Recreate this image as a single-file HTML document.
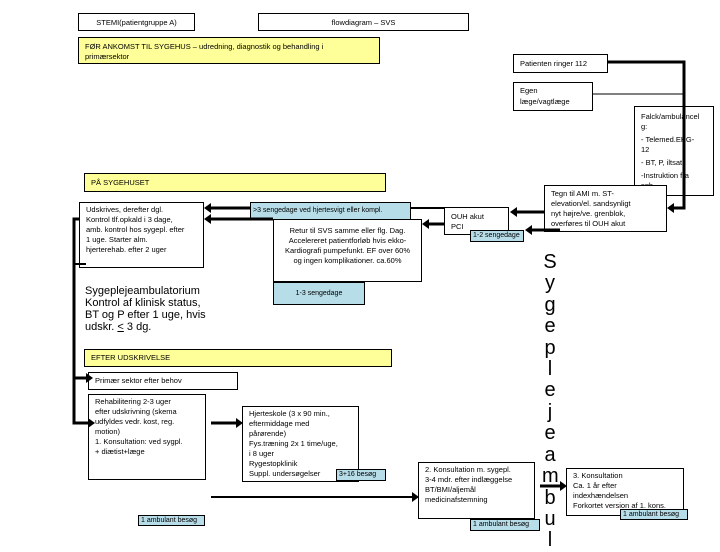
<!DOCTYPE html>
<html><head><meta charset="utf-8"><style>
body{margin:0;width:720px;height:540px;background:#fff;position:relative;overflow:hidden;font-family:"Liberation Sans",sans-serif;}
.b{position:absolute;border:1px solid #000;background:#fff;box-sizing:border-box;font-size:7.5px;line-height:11px;padding:2px 6px;color:#000;}
.y{background:#ffff99;}
.t{background:#b7dde8;padding:0 2px;line-height:10px;white-space:nowrap;font-size:7px;}
.big{position:absolute;left:542px;font-size:20px;width:16px;text-align:center;}
</style></head><body>
<div class="b" style="left:78px;top:13px;width:117px;height:18px;text-align:center;line-height:13px">STEMI(patientgruppe A)</div>
<div class="b" style="left:258px;top:13px;width:211px;height:18px;text-align:center;line-height:13px">flowdiagram – SVS</div>
<div class="b y" style="left:78px;top:37px;width:302px;height:27px;line-height:10px;padding-top:4px">FØR ANKOMST TIL SYGEHUS – udredning, diagnostik og behandling i<br>primærsektor</div>
<div class="b" style="left:513px;top:54px;width:95px;height:19px;line-height:13px">Patienten ringer 112</div>
<div class="b" style="left:513px;top:82px;width:80px;height:29px;line-height:11px">Egen<br>læge/vagtlæge</div>
<div class="b" style="left:634px;top:106px;width:80px;height:90px;line-height:10px;padding-top:5px;white-space:nowrap">Falck/ambulancel<br>g:<div style="margin-top:3px">- Telemed.EKG-</div>12<div style="margin-top:3px">- BT, P, iltsat.</div><div style="margin-top:3px">-Instruktion fra</div>sgh.</div>
<div class="b" style="left:544px;top:185px;width:123px;height:47px;line-height:10px;padding-top:3px">Tegn til AMI m. ST-<br>elevation/el. sandsynligt<br>nyt højre/ve. grenblok,<br>overføres til OUH akut</div>
<div class="b y" style="left:84px;top:173px;width:302px;height:19px;line-height:13px">PÅ SYGEHUSET</div>
<div class="b" style="left:79px;top:202px;width:125px;height:66px;line-height:10px">Udskrives, derefter dgl.<br>Kontrol tlf.opkald i 3 dage,<br>amb. kontrol hos sygepl. efter<br>1 uge. Starter alm.<br>hjerterehab. efter 2 uger</div>
<div class="b t" style="left:250px;top:202px;width:161px;height:18px;line-height:16px">&gt;3 sengedage ved hjertesvigt eller kompl.</div>
<div class="b" style="left:273px;top:219px;width:149px;height:63px;text-align:center;line-height:10px;padding-top:6px">Retur til SVS samme eller flg. Dag.<br>Accelereret patientforløb hvis ekko-<br>Kardiografi pumpefunkt. EF over 60%<br>og ingen komplikationer. ca.60%</div>
<div class="b" style="left:444px;top:207px;width:65px;height:28px;line-height:10px;padding-top:4px">OUH akut<br>PCI</div>
<div class="b t" style="left:470px;top:230px;width:54px;height:12px">1-2 sengedage</div>
<div style="position:absolute;left:85px;top:285px;font-size:11px;line-height:12px">Sygeplejeambulatorium<br>Kontrol af klinisk status,<br>BT og P efter 1 uge, hvis<br>udskr. <u>&lt;</u> 3 dg.</div>
<div class="b t" style="left:273px;top:282px;width:92px;height:23px;line-height:21px;text-align:center">1-3 sengedage</div>
<div class="b y" style="left:84px;top:349px;width:308px;height:18px;line-height:12px">EFTER UDSKRIVELSE</div>
<div class="b" style="left:88px;top:372px;width:150px;height:18px;line-height:12px">Primær sektor efter behov</div>
<div class="b" style="left:88px;top:394px;width:118px;height:86px;line-height:10px">Rehabilitering 2-3 uger<br>efter udskrivning (skema<br>udfyldes vedr. kost, reg.<br>motion)<br>1. Konsultation: ved sygpl.<br>+ diætist+læge</div>
<div class="b" style="left:242px;top:406px;width:117px;height:76px;line-height:10px">Hjerteskole (3 x 90 min.,<br>eftermiddage med<br>pårørende)<br>Fys.træning 2x 1 time/uge,<br>i 8 uger<br>Rygestopklinik<br>Suppl. undersøgelser</div>
<div class="b t" style="left:336px;top:469px;width:50px;height:12px">3+16 besøg</div>
<div class="b t" style="left:138px;top:515px;width:67px;height:11px">1 ambulant besøg</div>
<div class="b" style="left:418px;top:462px;width:117px;height:57px;line-height:10px">2. Konsultation m. sygepl.<br>3-4 mdr. efter indlæggelse<br>BT/BMI/aljemål<br>medicinafstemning</div>
<div class="b t" style="left:470px;top:519px;width:70px;height:12px">1 ambulant besøg</div>
<div class="b" style="left:566px;top:468px;width:118px;height:48px;line-height:10px">3. Konsultation<br>Ca. 1 år efter<br>indexhændelsen<br>Forkortet version af 1. kons.</div>
<div class="b t" style="left:620px;top:509px;width:68px;height:11px">1 ambulant besøg</div>
<div class="big" style="top:251px">S</div><div class="big" style="top:272px">y</div><div class="big" style="top:294px">g</div><div class="big" style="top:315px">e</div><div class="big" style="top:337px">p</div><div class="big" style="top:358px">l</div><div class="big" style="top:379px">e</div><div class="big" style="top:401px">j</div><div class="big" style="top:422px">e</div><div class="big" style="top:444px">a</div><div class="big" style="top:465px">m</div><div class="big" style="top:487px">b</div><div class="big" style="top:508px">u</div><div class="big" style="top:529px">l</div>
<svg width="720" height="540" style="position:absolute;left:0;top:0" fill="#000">
<g stroke="#000" fill="none">
<polyline points="608,62 684,62 684,208 670,208" stroke-width="3"/>
<line x1="593" y1="94" x2="684" y2="94" stroke-width="1"/>
<line x1="544" y1="212" x2="514" y2="212" stroke-width="3"/>
<line x1="560" y1="230" x2="530" y2="230" stroke-width="3"/>
<line x1="444" y1="224" x2="425" y2="224" stroke-width="3"/>
<line x1="411" y1="208" x2="444" y2="208" stroke-width="2"/>
<line x1="250" y1="208" x2="207" y2="208" stroke-width="3"/>
<line x1="273" y1="219" x2="207" y2="219" stroke-width="3"/>
<polyline points="79,219 74,219 74,423 92,423" stroke-width="3"/>
<line x1="74" y1="264" x2="86" y2="264" stroke-width="2"/>
<line x1="74" y1="378" x2="90" y2="378" stroke-width="3"/>
<line x1="211" y1="423" x2="240" y2="423" stroke-width="3"/>
<line x1="211" y1="497" x2="416" y2="497" stroke-width="2"/>
<line x1="540" y1="486" x2="564" y2="486" stroke-width="3"/>
</g>
<polygon points="667,208 674,203 674,213"/>
<polygon points="510,212 517,207 517,217"/>
<polygon points="525,230 532,225 532,235"/>
<polygon points="422,224 429,219 429,229"/>
<polygon points="204,208 211,203 211,213"/>
<polygon points="204,219 211,214 211,224"/>
<polygon points="93,378 86,373 86,383"/>
<polygon points="95,423 88,418 88,428"/>
<polygon points="243,423 236,418 236,428"/>
<polygon points="419,497 412,492 412,502"/>
<polygon points="567,486 560,481 560,491"/>
</svg>
</body></html>
